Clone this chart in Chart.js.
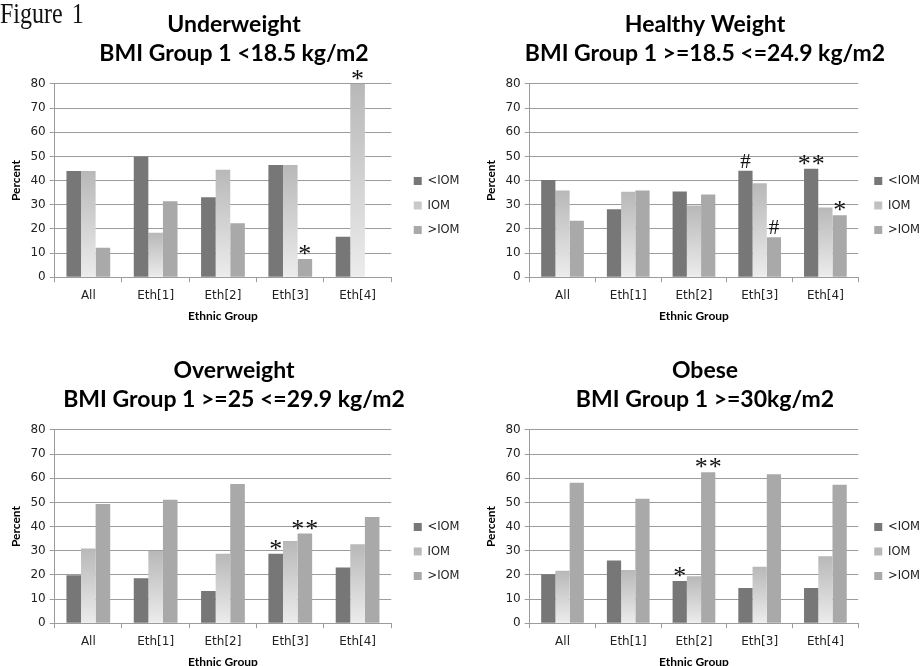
<!DOCTYPE html>
<html>
<head>
<meta charset="utf-8">
<script src="https://cdn.jsdelivr.net/npm/chart.js@4.4.0/dist/chart.umd.min.js"></script>
<style>
  html, body { margin: 0; padding: 0; background: #fff; }
  body { width: 920px; height: 666px; position: relative; overflow: hidden; }
  .panel { position: absolute; width: 460px; height: 333px; }
  #fig { position: absolute; left: 0; top: -3px; font-family: 'Liberation Serif', serif; font-size: 24px; word-spacing: 3px; color: #111; z-index: 2; transform: scaleY(1.25); transform-origin: left top; }
</style>
</head>
<body>
<div class="panel" style="left:0;top:0"><canvas id="c1"></canvas></div>
<div class="panel" style="left:460px;top:0"><canvas id="c2"></canvas></div>
<div class="panel" style="left:0;top:346px"><canvas id="c3"></canvas></div>
<div class="panel" style="left:460px;top:346px"><canvas id="c4"></canvas></div>
<div id="fig">Figure 1</div>
<script>
const groups = ['All', 'Eth[1]', 'Eth[2]', 'Eth[3]', 'Eth[4]']
const seriesNames = ['<IOM', 'IOM', '>IOM']
const yMin = 0
const yMax = 80
const yStep = 10

// Underweight
const underweightBelow = [44, 50, 33.1, 46.4, 16.7]
const underweightWithin = [44, 18.4, 44.5, 46.4, 80]
const underweightAbove = [12.2, 31.4, 22.3, 7.5, 0]
const underweightMarks = [['', '', '', '', ''], ['', '', '', '', '*'], ['', '', '', '*', '']]

// Healthy weight
const healthyBelow = [40.2, 28.1, 35.5, 44.1, 44.9]
const healthyWithin = [35.9, 35.4, 29.7, 38.9, 28.9]
const healthyAbove = [23.4, 35.9, 34.2, 16.5, 25.6]
const healthyMarks = [['', '', '', '#', '**'], ['', '', '', '', ''], ['', '', '', '#', '*']]

// Overweight
const overweightBelow = [19.9, 18.6, 13.3, 28.8, 23.1]
const overweightWithin = [30.9, 29.9, 28.8, 34, 32.7]
const overweightAbove = [49.3, 51.1, 57.6, 37.1, 44]
const overweightMarks = [['', '', '', '*', ''], ['', '', '', '', ''], ['', '', '', '**', '']]

// Obese
const obeseBelow = [20.3, 26, 17.5, 14.6, 14.6]
const obeseWithin = [21.7, 22, 19.4, 23.4, 27.7]
const obeseAbove = [58.1, 51.5, 62.5, 61.7, 57.3]
const obeseMarks = [['', '', '*', '', ''], ['', '', '', '', ''], ['', '', '**', '', '']]

const gridColor = '#9c9c9c'
const tickFont = { family: 'DejaVu Sans', size: 12 }

const iomFill = (context) => {
  const chart = context.chart
  if (context.type !== 'data' || !chart.chartArea) return '#d6d6d6'
  const y = chart.scales.y
  const top = y.getPixelForValue(context.raw)
  const bottom = y.getPixelForValue(0)
  if (bottom - top < 1) return '#d6d6d6'
  const g = chart.ctx.createLinearGradient(0, top, 0, bottom)
  g.addColorStop(0, '#b8b8b8')
  g.addColorStop(1, '#ececec')
  return g
}

// significance marks drawn above the bars
const marksPlugin = {
  id: 'marks',
  afterDatasetsDraw(chart, args, opts) {
    const ctx = chart.ctx
    const rows = opts.rows || []
    ctx.save()
    ctx.fillStyle = '#111'
    ctx.textAlign = 'center'
    ctx.textBaseline = 'alphabetic'
    rows.forEach((row, i) => {
      const meta = chart.getDatasetMeta(i)
      row.forEach((mark, j) => {
        if (!mark) return
        const bar = meta.data[j]
        if (mark === '#') {
          ctx.font = '21px "Liberation Serif"'
          ctx.fillText('#', bar.x, bar.y - 3)
        } else {
          ctx.font = '26px "Liberation Serif"'
          const n = mark.length
          for (let k = 0; k < n; k++) {
            ctx.fillText('*', bar.x + (k - (n - 1) / 2) * 14, bar.y + 3)
          }
        }
      })
    })
    ctx.restore()
  }
}

// nudge the legend away from the plot
const legendShift = {
  id: 'legendShift',
  afterLayout(chart, args, opts) {
    const l = chart.legend
    l.left += opts.dx
    l.right += opts.dx
    l.top += opts.dy
    l.bottom += opts.dy
  }
}

const makeChart = (id, titleLines, below, within, above, marks, side) => {
  const wide = side === 'left'
  return new Chart(document.getElementById(id), {
    type: 'bar',
    data: {
      labels: groups,
      datasets: [
        { label: seriesNames[0], data: below, backgroundColor: '#777777' },
        { label: seriesNames[1], data: within, backgroundColor: iomFill },
        { label: seriesNames[2], data: above, backgroundColor: '#a9a9a9' }
      ]
    },
    plugins: [marksPlugin, legendShift],
    options: {
      responsive: true,
      maintainAspectRatio: false,
      animation: false,
      layout: { padding: { left: wide ? 8 : 23, right: wide ? 0 : -7, top: 0, bottom: 6 } },
      datasets: { bar: { categoryPercentage: 0.65, barPercentage: 1, borderWidth: 0 } },
      plugins: {
        title: {
          display: true,
          text: titleLines,
          color: '#000',
          font: { family: 'Lato', size: 23, weight: 'bold', lineHeight: 1.26 },
          padding: { top: 10, bottom: 16 }
        },
        legend: {
          position: 'right',
          fullSize: false,
          labels: {
            boxWidth: 8,
            boxHeight: 8,
            padding: 13,
            color: '#222',
            font: { family: 'DejaVu Sans', size: 11.5 }
          }
        },
        tooltip: { enabled: false },
        marks: { rows: marks },
        legendShift: { dx: wide ? 9.5 : 3, dy: 25 }
      },
      scales: {
        x: {
          grid: { drawOnChartArea: false, drawTicks: true, tickLength: 5, color: gridColor, offset: true },
          border: { display: true, color: gridColor },
          ticks: { color: '#222', font: tickFont, padding: 6 },
          title: {
            display: true,
            text: 'Ethnic Group',
            color: '#000',
            font: { family: 'Lato', size: 12, weight: 'bold' },
            padding: { top: 0, bottom: 4 }
          }
        },
        y: {
          min: yMin,
          max: yMax,
          grid: { color: gridColor, tickLength: 5 },
          border: { display: true, color: gridColor },
          ticks: { stepSize: yStep, color: '#222', font: tickFont, padding: 4 },
          title: {
            display: true,
            text: 'Percent',
            color: '#000',
            font: { family: 'Lato', size: 12, weight: 'bold' },
            padding: { top: 1, bottom: 3 }
          }
        }
      }
    }
  })
}

makeChart('c1', ['Underweight', 'BMI Group 1 <18.5 kg/m2'], underweightBelow, underweightWithin, underweightAbove, underweightMarks, 'left')
makeChart('c2', ['Healthy Weight', 'BMI Group 1 >=18.5 <=24.9 kg/m2'], healthyBelow, healthyWithin, healthyAbove, healthyMarks, 'right')
makeChart('c3', ['Overweight', 'BMI Group 1 >=25 <=29.9 kg/m2'], overweightBelow, overweightWithin, overweightAbove, overweightMarks, 'left')
makeChart('c4', ['Obese', 'BMI Group 1 >=30kg/m2'], obeseBelow, obeseWithin, obeseAbove, obeseMarks, 'right')
</script>
</body>
</html>
